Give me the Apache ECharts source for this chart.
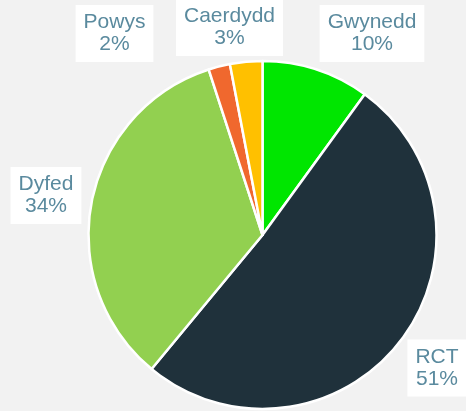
<!DOCTYPE html>
<html>
<head>
<meta charset="utf-8">
<script src="https://cdn.jsdelivr.net/npm/echarts@6/dist/echarts.min.js"></script>
<style>
html,body{margin:0;padding:0;background:#f2f2f2;}
#chart{width:466px;height:411px;}
</style>
</head>
<body>
<div id="chart"></div>
<script>
var categories = ['Gwynedd', 'RCT', 'Dyfed', 'Powys', 'Caerdydd'];
var values = [10, 51, 34, 2, 3];
var colors = ['#00e600', '#1f313b', '#92d050', '#f0682e', '#ffc000'];
// label centre positions (layout only)
var labelPos = [[372, 33.5], [437, 368], [46, 195.5], [114.5, 33.5], [229.5, 27.5]];

var chart = echarts.init(document.getElementById('chart'), null, {renderer: 'canvas'});
chart.setOption({
  backgroundColor: '#f2f2f2',
  animation: false,
  series: [{
    type: 'pie',
    center: [262.5, 235],
    radius: 174,
    startAngle: 90,
    clockwise: true,
    avoidLabelOverlap: false,
    data: categories.map(function (c, i) {
      return {name: c, value: values[i], itemStyle: {color: colors[i]}};
    }),
    itemStyle: {borderColor: '#ffffff', borderWidth: 2.5},
    label: {
      show: true,
      position: 'outside',
      formatter: '{b}\n{c}%',
      fontFamily: 'Arial, "Liberation Sans", sans-serif',
      fontSize: 21,
      lineHeight: 22,
      color: '#5a8a9e',
      align: 'center',
      backgroundColor: '#ffffff',
      padding: [7, 8, 6, 8]
    },
    labelLine: {show: false},
    labelLayout: function (params) {
      var p = labelPos[params.dataIndex];
      return {x: p[0], y: p[1], align: 'center', verticalAlign: 'middle'};
    }
  }]
});
</script>
</body>
</html>
